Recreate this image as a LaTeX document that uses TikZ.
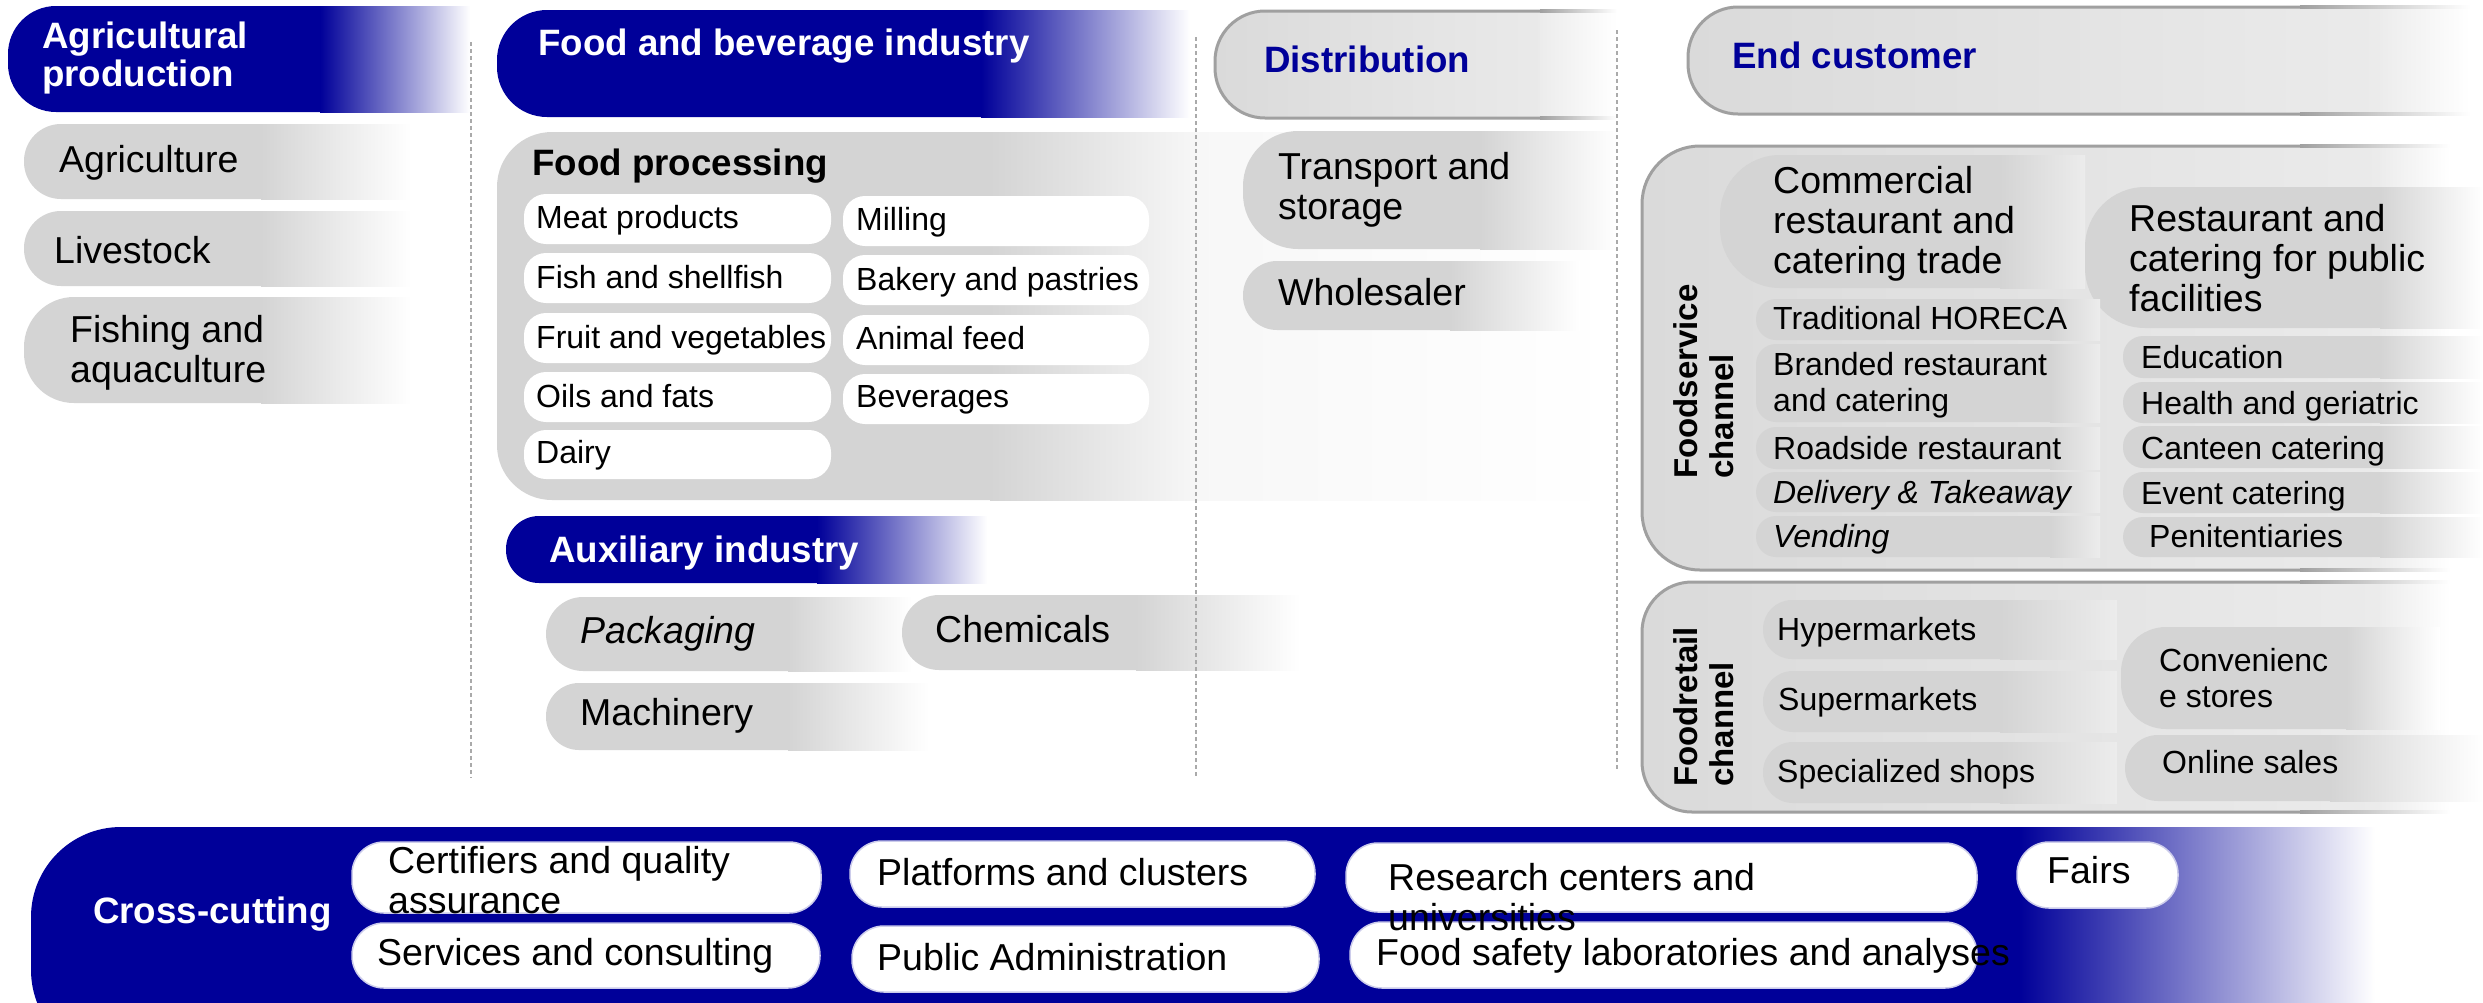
\documentclass[tikz,border=0pt]{standalone}
\usepackage{fontspec}
\setmainfont{Liberation Sans}
\definecolor{navy}{RGB}{0,0,153}
\definecolor{cellg}{RGB}{212,212,212}
\definecolor{boxA}{RGB}{218,218,218}
\definecolor{boxB}{RGB}{236,236,236}
\definecolor{bordc}{RGB}{160,160,160}
\definecolor{dashc}{RGB}{170,170,170}
\newcommand\fs[2]{\fontsize{#1}{#2}\selectfont}
\newcommand\ml[1]{\begin{tabular}[t]{@{}l@{}}#1\end{tabular}}
% fade box: x1,y1,y2,xs,xe,col,mid,end,r
\newcommand\fbm[9]{%
  \fill[#6, rounded corners=#9pt] (#1,#2) rectangle ({#4+#9},#3);
  \shade[left color=#6, middle color=#7, right color=#8] (#4,#2) rectangle (#5,#3);}
% outlined gradient box: x1,y1,y2,xs,xe,r,xb
\newcommand\gbx[7]{%
  \shade[left color=boxA, right color=boxB, rounded corners=#6pt] (#1,#2) rectangle ({#4+#6},#3);
  \shade[left color=boxB, right color=white] (#4,#2) rectangle (#5,#3);
  \draw[bordc, line width=3pt, rounded corners=#6pt] (#7,#2) -- (#1,#2) -- (#1,#3) -- (#7,#3);
  \shade[left color=bordc, right color=white] (#7,{#2-1.5}) rectangle (#5,{#2+1.5});
  \shade[left color=bordc, right color=white] (#7,{#3-1.5}) rectangle (#5,{#3+1.5});}
\tikzset{
  lbl/.style={anchor=base west, inner sep=0pt, font=\fs{37.5}{40}},
  sublbl/.style={anchor=base west, inner sep=0pt, font=\fs{32}{36}},
  hdr/.style={anchor=base west, inner sep=0pt, font=\fs{36.7}{38}\bfseries, text=white},
  hdrblue/.style={hdr, text=navy},
  vlbl/.style={anchor=base west, inner sep=0pt, rotate=90, font=\fs{33}{36}\bfseries},
  dashl/.style={dashc, line width=1.5pt, dash pattern=on 4pt off 3pt},
  wcell/.style={fill=white, rounded corners=22pt},
  xcell/.style={fill=white, draw=navy!20, line width=1.5pt, rounded corners=32pt},
}
\begin{document}
\begin{tikzpicture}[x=1pt,y=-1pt]
\useasboundingbox (0,0) rectangle (2483,1002);
\clip (0,0) rectangle (2483,1002);
\fill[white] (0,0) rectangle (2483,1002);

% food processing background
\fill[cellg, rounded corners=55pt] (497,132) rectangle (1045,500);
\shade[left color=cellg, right color=black!3] (990,132) rectangle (1200,500);
\shade[left color=black!3, right color=white] (1200,132) rectangle (1617,500);

% blue headers
\fbm{8}{6}{112}{320}{470}{navy}{navy!40}{white}{48}
\fbm{497}{10}{117}{981}{1190}{navy}{navy!40}{white}{50}
\fbm{506}{516}{583}{817}{987}{navy}{navy!40}{white}{33}
\fbm{31}{827}{1060}{2019}{2375}{navy}{navy!40}{white}{90}

% agricultural production cells
\fbm{24}{124}{199}{261}{411}{cellg}{cellg!45!white}{white}{37}
\fbm{24}{211}{286}{261}{411}{cellg}{cellg!45!white}{white}{37}
\fbm{24}{297}{403}{261}{411}{cellg}{cellg!45!white}{white}{50}

% food processing white cells
\fill[wcell] (524,194) rectangle (831,244);
\fill[wcell] (524,253) rectangle (831,303);
\fill[wcell] (524,313) rectangle (831,363);
\fill[wcell] (524,372) rectangle (831,422);
\fill[wcell] (524,430) rectangle (831,479);
\fill[wcell] (843,196) rectangle (1149,246);
\fill[wcell] (843,255) rectangle (1149,305);
\fill[wcell] (843,315) rectangle (1149,365);
\fill[wcell] (843,374) rectangle (1149,424);

% auxiliary cells
\fbm{546}{597}{671}{788}{912}{cellg}{cellg!45!white}{white}{37}
\fbm{902}{595}{670}{1136}{1300}{cellg}{cellg!45!white}{white}{37}
\fbm{546}{683}{750}{788}{929}{cellg}{cellg!45!white}{white}{33}

% distribution
\gbx{1215}{11}{118}{1540}{1617}{50}{1540}
\fbm{1243}{131}{249}{1480}{1617}{cellg}{cellg!45!white}{white}{55}
\fbm{1243}{261}{330}{1450}{1580}{cellg}{cellg!45!white}{white}{34}

% end customer
\gbx{1688}{7}{114}{2380}{2470}{50}{2300}
\gbx{1642}{146}{570}{2380}{2450}{58}{2300}
\gbx{1642}{582}{812}{2380}{2450}{50}{2300}

% foodservice cells
\fbm{1720}{155}{288}{2000}{2085}{cellg}{cellg!50!boxB}{boxB}{60}
\fbm{2085}{187}{328}{2380}{2483}{cellg}{cellg!45!white}{white}{60}
\fbm{1756}{299}{340}{2050}{2100}{cellg}{cellg!50!boxB}{boxB}{20}
\fbm{1756}{344}{422}{2050}{2100}{cellg}{cellg!50!boxB}{boxB}{20}
\fbm{1756}{427}{469}{2050}{2100}{cellg}{cellg!50!boxB}{boxB}{20}
\fbm{1756}{472}{512}{2050}{2100}{cellg}{cellg!50!boxB}{boxB}{20}
\fbm{1756}{516}{557}{2050}{2100}{cellg}{cellg!50!boxB}{boxB}{20}
\fbm{2123}{336}{378}{2380}{2483}{cellg}{cellg!45!white}{white}{20}
\fbm{2123}{382}{423}{2380}{2483}{cellg}{cellg!45!white}{white}{20}
\fbm{2123}{426}{468}{2380}{2483}{cellg}{cellg!45!white}{white}{20}
\fbm{2123}{472}{513}{2380}{2483}{cellg}{cellg!45!white}{white}{20}
\fbm{2123}{517}{557}{2380}{2483}{cellg}{cellg!45!white}{white}{20}

% foodretail cells
\fbm{1763}{600}{659}{2000}{2117}{cellg}{cellg!50!boxB}{boxB}{29}
\fbm{1763}{671}{732}{2000}{2117}{cellg}{cellg!50!boxB}{boxB}{30}
\fbm{1763}{742}{803}{2000}{2117}{cellg}{cellg!50!boxB}{boxB}{30}
\fbm{2121}{627}{729}{2346}{2440}{cellg}{cellg!45!white}{white}{45}
\fbm{2125}{735}{801}{2330}{2483}{cellg}{cellg!45!white}{white}{33}

% cross-cutting cells
\draw[xcell] (352,842) rectangle (821,913);
\draw[xcell] (352,923) rectangle (820,988);
\draw[xcell] (850,841) rectangle (1315,907);
\draw[xcell] (852,926) rectangle (1319,992);
\draw[xcell] (1346,843) rectangle (1977,912);
\draw[xcell] (1350,922) rectangle (1977,988);
\draw[xcell] (2017,842) rectangle (2178,908);

% dashed separators
\draw[dashl] (471,42) -- (471,778);
\draw[dashl] (1196,37) -- (1196,776);
\draw[dashl] (1617,30) -- (1617,770);

% headers
\node[hdr] (hAgri) at (42,48) {\ml{Agricultural\\production}};
\node[hdr] (hFood) at (538,55) {Food and beverage industry};
\node[hdr] (hAux) at (549,562) {Auxiliary industry};
\node[hdrblue] (hDist) at (1264,72) {Distribution};
\node[hdrblue] (hEnd) at (1732,68) {End customer};
\node[hdr, text=black] (hProc) at (532,175) {Food processing};
\node[hdr] (hCross) at (93,923) {Cross-cutting};

% agricultural
\node[lbl] (agr) at (59,172) {Agriculture};
\node[lbl] (liv) at (54,263) {Livestock};
\node[lbl] (fis) at (70,342) {\ml{Fishing and\\aquaculture}};

% food processing
\node[sublbl] (fp1) at (536,228) {Meat products};
\node[sublbl] (fp2) at (536,288) {Fish and shellfish};
\node[sublbl] (fp3) at (536,348) {Fruit and vegetables};
\node[sublbl] (fp4) at (536,407) {Oils and fats};
\node[sublbl] (fp5) at (536,463) {Dairy};
\node[sublbl] (fp6) at (856,230) {Milling};
\node[sublbl] (fp7) at (856,290) {Bakery and pastries};
\node[sublbl] (fp8) at (856,349) {Animal feed};
\node[sublbl] (fp9) at (856,407) {Beverages};

% auxiliary
\node[lbl] (pack) at (580,643) {\itshape Packaging};
\node[lbl] (chem) at (935,642) {Chemicals};
\node[lbl] (mach) at (580,725) {Machinery};

% distribution
\node[lbl] (trans) at (1278,179) {\ml{Transport and\\storage}};
\node[lbl] (whole) at (1278,305) {Wholesaler};

% foodservice
\node[vlbl] (vServ) at (1697,479) {\ml{Foodservice\\channel}};
\node[lbl] (comm) at (1773,193) {\ml{Commercial\\restaurant and\\catering trade}};
\node[lbl] (pub) at (2129,231) {\ml{Restaurant and\\catering for public\\facilities}};
\node[sublbl] (fs1) at (1773,329) {Traditional HORECA};
\node[sublbl] (fs2) at (1773,375) {\ml{Branded restaurant\\and catering}};
\node[sublbl] (fs3) at (1773,459) {Roadside restaurant};
\node[sublbl] (fs4) at (1773,503) {\itshape Delivery \& Takeaway};
\node[sublbl] (fs5) at (1773,547) {\itshape Vending};
\node[sublbl] (fs6) at (2141,368) {Education};
\node[sublbl] (fs7) at (2141,414) {Health and geriatric};
\node[sublbl] (fs8) at (2141,459) {Canteen catering};
\node[sublbl] (fs9) at (2141,504) {Event catering};
\node[sublbl] (fs10) at (2149,547) {Penitentiaries};

% foodretail
\node[vlbl] (vRet) at (1697,787) {\ml{Foodretail\\channel}};
\node[sublbl] (fr1) at (1777,640) {Hypermarkets};
\node[sublbl] (fr2) at (1778,710) {Supermarkets};
\node[sublbl] (fr3) at (1777,782) {Specialized shops};
\node[sublbl] (fr4) at (2159,671) {\ml{Convenienc\\e stores}};
\node[sublbl] (fr5) at (2162,773) {Online sales};

% cross-cutting
\node[lbl] (cc1) at (388,873) {\ml{Certifiers and quality\\assurance}};
\node[lbl] (cc2) at (377,965) {Services and consulting};
\node[lbl] (cc3) at (877,885) {Platforms and clusters};
\node[lbl] (cc4) at (877,970) {Public Administration};
\node[lbl] (cc5) at (1388,890) {\ml{Research centers and\\universities}};
\node[lbl] (cc6) at (1376,965) {Food safety laboratories and analyses};
\node[lbl] (cc7) at (2047,883) {Fairs};
\end{tikzpicture}
\end{document}
